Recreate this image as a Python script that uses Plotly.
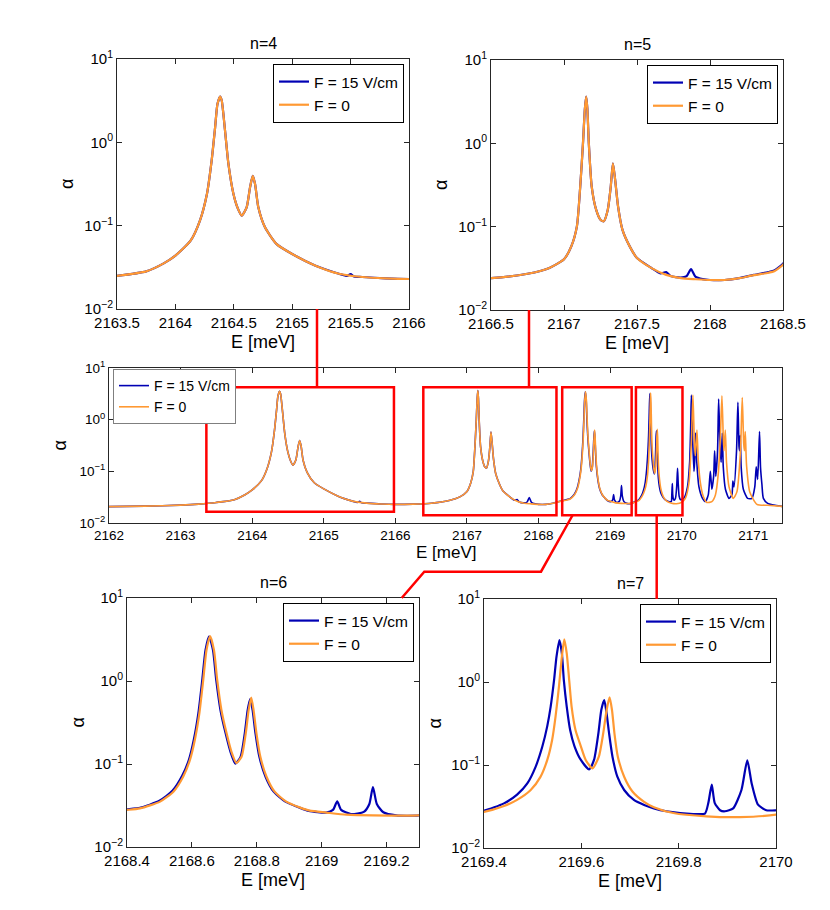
import plotly.graph_objects as go

W, H = 830, 910

# absorption spectrum, F = 0 (orange): (E [meV], alpha)
F0_POINTS = [
    (2162.0, 0.0207), (2162.5, 0.0212), (2163.0, 0.0222), (2163.25, 0.0232), (2163.5, 0.025),
    (2163.75, 0.0283), (2163.9, 0.0353), (2164.0, 0.0437), (2164.13, 0.066), (2164.21, 0.115),
    (2164.27, 0.24), (2164.31, 0.6), (2164.34, 1.51), (2164.36, 2.88), (2164.383, 3.55),
    (2164.397, 3.16), (2164.425, 1.38), (2164.454, 0.55), (2164.497, 0.24), (2164.535, 0.16),
    (2164.568, 0.132), (2164.61, 0.166), (2164.639, 0.288), (2164.662, 0.395), (2164.682, 0.316),
    (2164.71, 0.166), (2164.767, 0.0955), (2164.867, 0.06), (2165.0, 0.0457), (2165.2, 0.0331),
    (2165.4, 0.0265), (2165.6, 0.0242), (2165.8, 0.0233), (2166.0, 0.0229), (2166.25, 0.0232),
    (2166.5, 0.0241), (2166.75, 0.0272), (2166.9, 0.032), (2167.0, 0.0407), (2167.05, 0.058),
    (2167.088, 0.1), (2167.111, 0.3), (2167.13, 1.0), (2167.143, 2.6), (2167.152, 3.65),
    (2167.16, 2.6), (2167.17, 1.0), (2167.19, 0.3), (2167.22, 0.16), (2167.25, 0.121),
    (2167.272, 0.116), (2167.3, 0.16), (2167.32, 0.3), (2167.335, 0.575), (2167.35, 0.37),
    (2167.37, 0.176), (2167.4, 0.092), (2167.45, 0.058), (2167.5, 0.042), (2167.6, 0.0318),
    (2167.7, 0.0264), (2167.8, 0.0241), (2167.9, 0.0234), (2168.0, 0.0229), (2168.1, 0.0229),
    (2168.2, 0.0241), (2168.3, 0.0262), (2168.4, 0.028), (2168.44, 0.0292), (2168.502, 0.0352),
    (2168.543, 0.0464), (2168.573, 0.0703), (2168.594, 0.112), (2168.609, 0.195), (2168.623, 0.408),
    (2168.635, 1.03), (2168.645, 2.36), (2168.656, 3.48), (2168.668, 2.36), (2168.678, 1.03),
    (2168.691, 0.448), (2168.707, 0.234), (2168.722, 0.14), (2168.737, 0.103), (2168.753, 0.122),
    (2168.766, 0.234), (2168.775, 0.448), (2168.783, 0.63), (2168.79, 0.448), (2168.799, 0.234),
    (2168.811, 0.122), (2168.83, 0.0703), (2168.855, 0.0464), (2168.891, 0.0352), (2168.932, 0.03),
    (2168.963, 0.0274), (2169.014, 0.026), (2169.076, 0.0245), (2169.158, 0.024), (2169.3, 0.024),
    (2169.35, 0.0255), (2169.4, 0.0272), (2169.441, 0.032), (2169.468, 0.038), (2169.496, 0.05),
    (2169.516, 0.072), (2169.53, 0.115), (2169.54, 0.2), (2169.547, 0.382), (2169.554, 0.88),
    (2169.56, 2.02), (2169.565, 3.27), (2169.57, 2.21), (2169.575, 1.06), (2169.58, 0.505),
    (2169.588, 0.264), (2169.599, 0.168), (2169.609, 0.115), (2169.623, 0.091), (2169.636, 0.126),
    (2169.645, 0.241), (2169.652, 0.46), (2169.658, 0.653), (2169.663, 0.46), (2169.668, 0.241),
    (2169.675, 0.126), (2169.688, 0.0723), (2169.705, 0.048), (2169.729, 0.036), (2169.749, 0.031),
    (2169.789, 0.0264), (2169.857, 0.0241), (2169.926, 0.0236), (2170.0, 0.0252), (2170.05, 0.03),
    (2170.1, 0.06), (2170.135, 0.4), (2170.156, 3.0), (2170.175, 0.4), (2170.19, 0.2),
    (2170.212, 0.63), (2170.23, 0.17), (2170.26, 0.06), (2170.3, 0.033), (2170.35, 0.025),
    (2170.42, 0.026), (2170.47, 0.035), (2170.51, 0.09), (2170.54, 0.5), (2170.561, 2.9),
    (2170.58, 0.45), (2170.59, 0.25), (2170.608, 0.63), (2170.625, 0.15), (2170.66, 0.05),
    (2170.72, 0.03), (2170.77, 0.04), (2170.82, 0.25), (2170.845, 2.67), (2170.865, 0.35),
    (2170.875, 0.25), (2170.887, 0.59), (2170.905, 0.13), (2170.95, 0.04), (2171.05, 0.023),
    (2171.2, 0.022), (2171.4, 0.021),
]

# absorption spectrum, F = 15 V/cm (blue)
F15_POINTS = [
    (2162.0, 0.0207), (2162.5, 0.0212), (2163.0, 0.0222), (2163.25, 0.0232), (2163.5, 0.025),
    (2163.75, 0.0283), (2163.9, 0.0353), (2164.0, 0.0437), (2164.13, 0.066), (2164.21, 0.115),
    (2164.27, 0.24), (2164.31, 0.6), (2164.34, 1.51), (2164.36, 2.88), (2164.383, 3.55),
    (2164.397, 3.16), (2164.425, 1.38), (2164.454, 0.55), (2164.497, 0.24), (2164.535, 0.16),
    (2164.568, 0.132), (2164.61, 0.166), (2164.639, 0.288), (2164.662, 0.395), (2164.682, 0.316),
    (2164.71, 0.166), (2164.767, 0.0955), (2164.867, 0.06), (2165.0, 0.0457), (2165.2, 0.0331),
    (2165.4, 0.0265), (2165.47, 0.025), (2165.5, 0.0262), (2165.53, 0.0246), (2165.6, 0.0242),
    (2165.8, 0.0233), (2166.0, 0.0229), (2166.25, 0.0232), (2166.5, 0.0241), (2166.75, 0.0272),
    (2166.9, 0.032), (2167.0, 0.0407), (2167.05, 0.058), (2167.088, 0.1), (2167.111, 0.3),
    (2167.13, 1.0), (2167.143, 2.6), (2167.152, 3.65), (2167.16, 2.6), (2167.17, 1.0),
    (2167.19, 0.3), (2167.22, 0.16), (2167.25, 0.121), (2167.272, 0.116), (2167.3, 0.16),
    (2167.32, 0.3), (2167.335, 0.575), (2167.35, 0.37), (2167.37, 0.176), (2167.4, 0.092),
    (2167.45, 0.058), (2167.5, 0.042), (2167.6, 0.0318), (2167.66, 0.0275), (2167.7, 0.0285),
    (2167.73, 0.0255), (2167.8, 0.0245), (2167.84, 0.0255), (2167.87, 0.031), (2167.9, 0.0252),
    (2167.95, 0.0235), (2168.0, 0.0229), (2168.1, 0.0229), (2168.2, 0.0241), (2168.3, 0.0264),
    (2168.4, 0.0285), (2168.44, 0.0297), (2168.5, 0.036), (2168.54, 0.0475), (2168.57, 0.072),
    (2168.591, 0.113), (2168.606, 0.197), (2168.62, 0.41), (2168.632, 1.03), (2168.642, 2.36),
    (2168.653, 3.45), (2168.665, 2.36), (2168.675, 1.03), (2168.688, 0.448), (2168.704, 0.234),
    (2168.719, 0.14), (2168.734, 0.101), (2168.75, 0.122), (2168.763, 0.234), (2168.772, 0.448),
    (2168.78, 0.61), (2168.787, 0.448), (2168.796, 0.234), (2168.808, 0.122), (2168.827, 0.0703),
    (2168.852, 0.0464), (2168.888, 0.0352), (2168.93, 0.03), (2168.96, 0.0272), (2169.014, 0.026),
    (2169.035, 0.028), (2169.048, 0.0355), (2169.06, 0.028), (2169.09, 0.025), (2169.13, 0.0265),
    (2169.147, 0.033), (2169.158, 0.0528), (2169.17, 0.033), (2169.19, 0.0262), (2169.23, 0.024),
    (2169.3, 0.024), (2169.35, 0.026), (2169.4, 0.0282), (2169.441, 0.0345), (2169.468, 0.044),
    (2169.489, 0.06), (2169.506, 0.095), (2169.52, 0.168), (2169.53, 0.294), (2169.537, 0.505),
    (2169.544, 1.06), (2169.549, 2.02), (2169.555, 3.2), (2169.56, 2.21), (2169.564, 1.06),
    (2169.57, 0.505), (2169.577, 0.264), (2169.586, 0.168), (2169.599, 0.115), (2169.616, 0.0887),
    (2169.626, 0.115), (2169.635, 0.241), (2169.641, 0.46), (2169.647, 0.607), (2169.651, 0.46),
    (2169.657, 0.241), (2169.664, 0.126), (2169.674, 0.0723), (2169.688, 0.05), (2169.708, 0.0379),
    (2169.729, 0.033), (2169.749, 0.03), (2169.775, 0.0277), (2169.83, 0.0257), (2169.854, 0.026),
    (2169.861, 0.035), (2169.868, 0.058), (2169.874, 0.035), (2169.885, 0.0285), (2169.895, 0.0277),
    (2169.912, 0.03), (2169.929, 0.05), (2169.941, 0.114), (2169.95, 0.06), (2169.963, 0.0333),
    (2169.98, 0.0285), (2170.0, 0.0285), (2170.03, 0.03), (2170.08, 0.05), (2170.11, 0.15),
    (2170.125, 0.8), (2170.134, 3.0), (2170.15, 0.5), (2170.17, 0.1), (2170.18, 0.15),
    (2170.194, 0.55), (2170.21, 0.15), (2170.24, 0.05), (2170.29, 0.03), (2170.33, 0.026),
    (2170.37, 0.035), (2170.399, 0.1), (2170.42, 0.045), (2170.445, 0.08), (2170.459, 0.25),
    (2170.475, 0.08), (2170.5, 0.25), (2170.515, 2.5), (2170.535, 0.3), (2170.55, 0.15),
    (2170.566, 0.55), (2170.58, 0.12), (2170.61, 0.045), (2170.66, 0.03), (2170.7, 0.035),
    (2170.714, 0.065), (2170.73, 0.05), (2170.765, 0.25), (2170.784, 2.17), (2170.8, 0.3),
    (2170.808, 0.25), (2170.817, 0.5), (2170.83, 0.12), (2170.86, 0.045), (2170.92, 0.03),
    (2170.98, 0.03), (2171.02, 0.05), (2171.04, 0.123), (2171.06, 0.07), (2171.086, 0.59),
    (2171.1, 0.12), (2171.12, 0.055), (2171.14, 0.03), (2171.2, 0.024), (2171.4, 0.021),
]

PANEL_TITLES = ["n=4", "n=5", "", "n=6", "n=7"]
X_RANGES = [[2163.5, 2166], [2166.5, 2168.5], [2162, 2171.4], [2168.4, 2169.3], [2169.4, 2170]]
X_TICKS = [
    [2163.5, 2164, 2164.5, 2165, 2165.5, 2166],
    [2166.5, 2167, 2167.5, 2168, 2168.5],
    [2162, 2163, 2164, 2165, 2166, 2167, 2168, 2169, 2170, 2171],
    [2168.4, 2168.6, 2168.8, 2169, 2169.2],
    [2169.4, 2169.6, 2169.8, 2170],
]
Y_TICKS = [0.01, 0.1, 1, 10]
Y_TICKTEXT = ["10<sup>−2</sup>", "10<sup>−1</sup>", "10<sup>0</sup>", "10<sup>1</sup>"]
Y_MINOR = [m * d for d in (0.01, 0.1, 1) for m in range(2, 10)]

# zoom boxes on the overview panel: (E0, E1, alpha0, alpha1)
ZOOM_BOXES = [
    (2163.36, 2165.98, 0.0166, 4.24),
    (2166.39, 2168.25, 0.0141, 4.24),
    (2168.33, 2169.30, 0.0141, 4.24),
    (2169.36, 2170.01, 0.0141, 4.24),
]

BLUE = "#0000b4"
ORANGE = "#ff9933"
AXC = "#262626"
FONT = "Liberation Sans"

# pixel boxes of the panels: left, top, right, bottom
BOXES = [(117, 59, 409, 309), (491, 60, 783, 310), (109, 368, 782, 523),
         (127, 598, 419, 847), (484, 599, 776, 848)]

E_F0, A_F0 = map(list, zip(*F0_POINTS))
E_F15, A_F15 = map(list, zip(*F15_POINTS))


def fx(x):
    return x / W


def fy(y):
    return 1 - y / H


def label(text, x, y, size, angle=0):
    return dict(text=text, x=fx(x), y=fy(y), xref="paper", yref="paper", xanchor="center",
                yanchor="middle", showarrow=False, textangle=angle,
                font=dict(family=FONT, size=size, color="black"))


fig = go.Figure()
layout = {}
annotations = []

for i, (l, t, r, b) in enumerate(BOXES):
    k = i + 1
    sfx = "" if k == 1 else str(k)
    mid = k == 3
    fs = 13.5 if mid else 15
    lw = 1.6 if mid else 2.2
    leg = "legend" + sfx

    fig.add_trace(go.Scatter(x=E_F15, y=A_F15, name="F = 15 V/cm", mode="lines",
                             line=dict(color=BLUE, width=lw, shape="spline", smoothing=0.6),
                             xaxis="x" + sfx, yaxis="y" + sfx, legend=leg))
    fig.add_trace(go.Scatter(x=E_F0, y=A_F0, name="F = 0", mode="lines",
                             line=dict(color=ORANGE, width=lw, shape="spline", smoothing=0.6),
                             xaxis="x" + sfx, yaxis="y" + sfx, legend=leg))

    layout["xaxis" + sfx] = dict(
        domain=[fx(l), fx(r)], anchor="y" + sfx, range=X_RANGES[i],
        tickvals=X_TICKS[i], ticktext=[f"{v:g}" for v in X_TICKS[i]],
        ticks="inside", ticklen=5, tickcolor=AXC,
        showline=True, linecolor=AXC, linewidth=1, mirror="allticks",
        showgrid=False, zeroline=False, automargin=False,
        tickfont=dict(family=FONT, size=fs, color="black"),
    )
    layout["yaxis" + sfx] = dict(
        domain=[fy(b), fy(t)], anchor="x" + sfx, type="log", range=[-2, 1],
        tickvals=Y_TICKS, ticktext=Y_TICKTEXT, ticks="inside", ticklen=5, tickcolor=AXC,
        showline=True, linecolor=AXC, linewidth=1, mirror="allticks",
        showgrid=False, zeroline=False, automargin=False,
        tickfont=dict(family=FONT, size=fs, color="black"),
    )
    # extra overlaid axis that only carries the minor log ticks
    layout["yaxis" + str(k + 5)] = dict(
        overlaying="y" + sfx, anchor="x" + sfx, type="log", range=[-2, 1],
        tickvals=Y_MINOR, ticks="inside", ticklen=3, tickcolor=AXC,
        showticklabels=False, showline=False, mirror="allticks",
        showgrid=False, zeroline=False, automargin=False,
    )

    if mid:
        layout[leg] = dict(x=fx(l + 4), y=fy(t + 1), xanchor="left", yanchor="top",
                           bgcolor="white", bordercolor="#7f7f7f", borderwidth=1,
                           font=dict(family=FONT, size=14, color="black"), tracegroupgap=0)
    else:
        layout[leg] = dict(x=fx(r - 5), y=fy(t + 5), xanchor="right", yanchor="top",
                           bgcolor="white", bordercolor="black", borderwidth=1,
                           font=dict(family=FONT, size=15.5, color="black"), tracegroupgap=0)

    cx = (l + r) / 2
    if PANEL_TITLES[i]:
        annotations.append(label(PANEL_TITLES[i], cx, t - 16, 16))
    annotations.append(label("E [meV]", cx, b + (29 if mid else 33), 17 if mid else 18))
    annotations.append(label("α", l - 50, (t + b) / 2, 18, -90))

shapes = []
for e0, e1, a0, a1 in ZOOM_BOXES:
    shapes.append(dict(type="rect", xref="x3", yref="y3", x0=e0, x1=e1, y0=a0, y1=a1,
                       line=dict(color="red", width=2.5)))


def seg(pts):
    return "M " + " L ".join(f"{fx(x):.5f},{fy(y):.5f}" for x, y in pts)


for pts in [[(317, 309), (317, 387)], [(529, 310), (529, 387)],
            [(572.7, 515), (541, 571.7), (424.3, 571.7), (401.7, 598)],
            [(656.7, 515), (656.7, 599)]]:
    shapes.append(dict(type="path", xref="paper", yref="paper", path=seg(pts),
                       line=dict(color="red", width=2.5)))

fig.update_layout(
    width=W, height=H, autosize=False, margin=dict(l=0, r=0, t=0, b=0, autoexpand=False),
    paper_bgcolor="white", plot_bgcolor="rgba(0,0,0,0)",
    font=dict(family=FONT, color="black"),
    annotations=annotations, shapes=shapes, **layout,
)

# drop the default page margin so the figure sits at the window's corner
fig.write_html("out.html", config={"displayModeBar": False},
               post_script="document.body.style.margin = '0';")
